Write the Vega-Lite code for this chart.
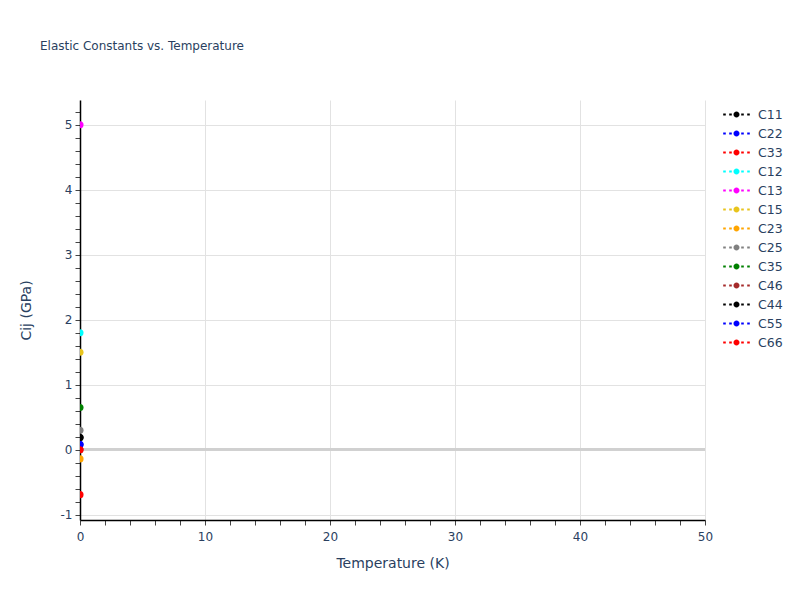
{
  "$schema": "https://vega.github.io/schema/vega-lite/v6.json",
  "width": 625,
  "height": 420,
  "autosize": {"type": "none"},
  "padding": {"left": 80, "top": 100, "right": 95, "bottom": 80},
  "background": "white",
  "config": {
    "view": {"stroke": null},
    "font": "DejaVu Sans",
    "axis": {
      "labelColor": "#2a3f5f",
      "titleColor": "#2a3f5f",
      "labelFontSize": 12,
      "titleFontSize": 14,
      "titleFontWeight": "normal",
      "domainColor": "#000000",
      "domainWidth": 1.5,
      "tickColor": "#444444",
      "tickSize": 5,
      "gridColor": "#e2e2e2",
      "gridWidth": 1,
      "labelOverlap": false,
      "labelFlush": false
    }
  },
  "title": {
    "text": "Elastic Constants vs. Temperature",
    "anchor": "start",
    "frame": "group",
    "dx": -40,
    "offset": 42,
    "baseline": "middle",
    "fontSize": 12,
    "fontWeight": "normal",
    "color": "#2a3f5f"
  },
  "data": {
    "values": [
      {"series": "C11", "temperature": 0, "cij": 0.19},
      {"series": "C22", "temperature": 0, "cij": 0.08},
      {"series": "C33", "temperature": 0, "cij": -0.69},
      {"series": "C12", "temperature": 0, "cij": 1.8},
      {"series": "C13", "temperature": 0, "cij": 5.0},
      {"series": "C15", "temperature": 0, "cij": 1.5},
      {"series": "C23", "temperature": 0, "cij": -0.14},
      {"series": "C25", "temperature": 0, "cij": 0.3},
      {"series": "C35", "temperature": 0, "cij": 0.65},
      {"series": "C46", "temperature": 0, "cij": 0.0},
      {"series": "C44", "temperature": 0, "cij": 0.19},
      {"series": "C55", "temperature": 0, "cij": 0.08},
      {"series": "C66", "temperature": 0, "cij": 0.0}
    ]
  },
  "encoding": {
    "x": {
      "field": "temperature",
      "type": "quantitative",
      "title": "Temperature (K)",
      "scale": {"domain": [0, 50], "nice": false, "zero": false},
      "axis": {
        "values": [0, 2, 4, 6, 8, 10, 12, 14, 16, 18, 20, 22, 24, 26, 28, 30, 32, 34, 36, 38, 40, 42, 44, 46, 48, 50],
        "labelExpr": "datum.value % 10 === 0 ? toString(datum.value) : ''",
        "gridOpacity": {"condition": {"test": "datum.value % 10 === 0", "value": 1}, "value": 0},
        "labelPadding": 6,
        "titlePadding": 14
      }
    },
    "y": {
      "field": "cij",
      "type": "quantitative",
      "title": "Cij (GPa)",
      "scale": {"domain": [-1.08, 5.38], "nice": false, "zero": false},
      "axis": {
        "values": [-1, -0.8, -0.6, -0.4, -0.2, 0, 0.2, 0.4, 0.6, 0.8, 1, 1.2, 1.4, 1.6, 1.8, 2, 2.2, 2.4, 2.6, 2.8, 3, 3.2, 3.4, 3.6, 3.8, 4, 4.2, 4.4, 4.6, 4.8, 5, 5.2],
        "labelExpr": "abs(datum.value - round(datum.value)) < 0.001 ? toString(round(datum.value)) : ''",
        "gridOpacity": {"condition": {"test": "abs(datum.value - round(datum.value)) < 0.001", "value": 1}, "value": 0},
        "labelPadding": 3,
        "titlePadding": 27
      }
    }
  },
  "layer": [
    {
      "mark": {"type": "rule", "color": "#d0d0d0", "strokeWidth": 2},
      "encoding": {
        "x": {"value": 0},
        "x2": {"value": 625},
        "y": {
          "datum": 0,
          "type": "quantitative",
          "title": "Cij (GPa)",
          "scale": {"domain": [-1.08, 5.38], "nice": false, "zero": false},
          "axis": {
            "values": [-1, -0.8, -0.6, -0.4, -0.2, 0, 0.2, 0.4, 0.6, 0.8, 1, 1.2, 1.4, 1.6, 1.8, 2, 2.2, 2.4, 2.6, 2.8, 3, 3.2, 3.4, 3.6, 3.8, 4, 4.2, 4.4, 4.6, 4.8, 5, 5.2],
            "labelExpr": "abs(datum.value - round(datum.value)) < 0.001 ? toString(round(datum.value)) : ''",
            "gridOpacity": {"condition": {"test": "abs(datum.value - round(datum.value)) < 0.001", "value": 1}, "value": 0},
            "labelPadding": 3,
            "titlePadding": 27
          }
        }
      }
    },
    {
      "mark": {"type": "point", "filled": true, "shape": "circle", "size": 50, "opacity": 1, "clip": true},
      "encoding": {
        "color": {
          "field": "series",
          "type": "nominal",
          "sort": ["C11", "C22", "C33", "C12", "C13", "C15", "C23", "C25", "C35", "C46", "C44", "C55", "C66"],
          "scale": {
            "domain": ["C11", "C22", "C33", "C12", "C13", "C15", "C23", "C25", "C35", "C46", "C44", "C55", "C66"],
            "range": ["#000000", "#0000ff", "#ff0000", "#00ffff", "#ff00ff", "#e8c41c", "#ffa500", "#808080", "#008000", "#a52a2a", "#000000", "#0000ff", "#ff0000"]
          },
          "legend": {
            "title": null,
            "orient": "none",
            "legendX": 648,
            "legendY": 6,
            "padding": 0,
            "symbolType": "M-1.565,-0.118h0.306v0.236h-0.306z M-0.859,-0.118h0.306v0.236h-0.306z M0.553,-0.118h0.306v0.236h-0.306z M1.259,-0.118h0.306v0.236h-0.306z M-0.353,0a0.353,0.353 0 1,0 0.706,0a0.353,0.353 0 1,0 -0.706,0z",
            "symbolSize": 289,
            "symbolStrokeWidth": 0,
            "symbolOpacity": 1,
            "labelOffset": 13,
            "labelFontSize": 12.5,
            "labelColor": "#2a3f5f",
            "rowPadding": 4
          }
        }
      }
    }
  ]
}
